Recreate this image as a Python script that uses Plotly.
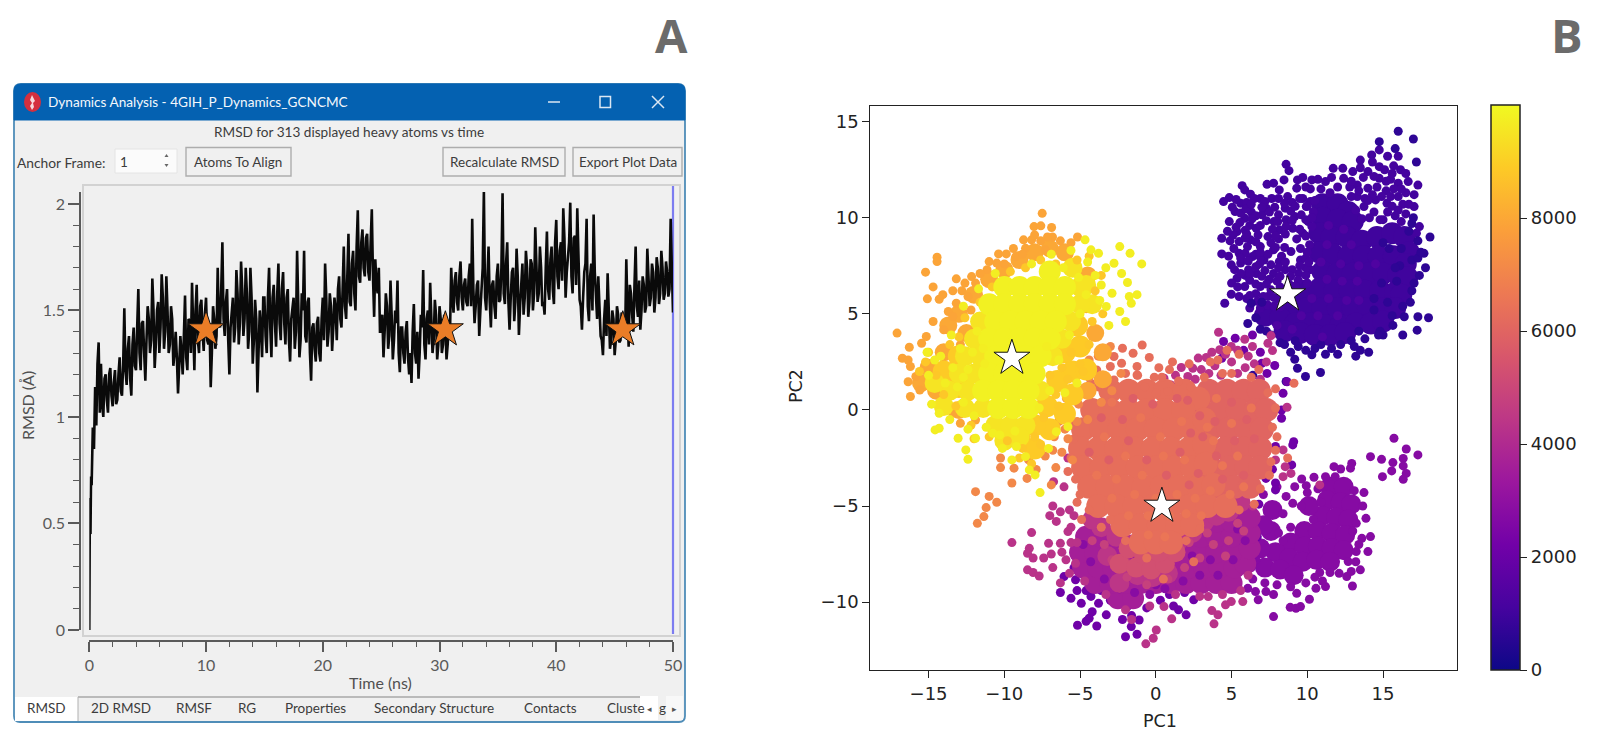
import plotly.graph_objects as go

W, H = 1600, 737

# ---------- Panel A: RMSD trace (ns, Angstrom) ----------
rmsd_time = [0, 0.05, 0.1, 0.15, 0.2, 0.3, 0.4, 0.5, 0.6, 0.7, 0.8, 0.9,
 1.0,1.2,1.4,1.6,1.8,2.0,2.2,2.4,2.6,2.8,3.0,3.2,3.4,3.6,3.8,4.0,4.2,4.4,4.6,4.8,5.0,5.2,5.4,5.6,5.8,
 6.0,6.2,6.4,6.6,6.8,7.0,7.2,7.4,7.6,7.8,8.0,8.2,8.4,8.6,8.8,9.0,9.2,9.4,9.6,9.8,10.0,10.2,10.4,10.6,10.8,
 11.0,11.2,11.4,11.6,11.8,12.0,12.2,12.4,12.6,12.8,13.0,13.2,13.4,13.6,13.8,14.0,14.2,14.4,14.6,14.8,15.0,15.2,15.4,15.6,15.8,
 16.0,16.2,16.4,16.6,16.8,17.0,17.2,17.4,17.6,17.8,18.0,18.2,18.4,18.6,18.8,19.0,19.2,19.4,19.6,19.8,20.0,20.2,20.4,20.6,20.8,
 21.0,21.2,21.4,21.6,21.8,22.0,22.2,22.4,22.6,22.8,23.0,23.2,23.4,23.6,23.8,24.0,24.2,24.4,24.6,24.8,25.0,25.2,25.4,25.6,25.8,
 26.0,26.2,26.4,26.6,26.8,27.0,27.2,27.4,27.6,27.8,28.0,28.2,28.4,28.6,28.8,29.0,29.2,29.4,29.6,29.8,30.0,30.2,30.4,30.6,30.8,
 31.0,31.2,31.4,31.6,31.8,32.0,32.2,32.4,32.6,32.8,33.0,33.2,33.4,33.6,33.8,34.0,34.2,34.4,34.6,34.8,35.0,35.2,35.4,35.6,35.8,
 36.0,36.2,36.4,36.6,36.8,37.0,37.2,37.4,37.6,37.8,38.0,38.2,38.4,38.6,38.8,39.0,39.2,39.4,39.6,39.8,40.0,40.2,40.4,40.6,40.8,
 41.0,41.2,41.4,41.6,41.8,42.0,42.2,42.4,42.6,42.8,43.0,43.2,43.4,43.6,43.8,44.0,44.2,44.4,44.6,44.8,45.0,45.2,45.4,45.6,45.8,
 46.0,46.2,46.4,46.6,46.8,47.0,47.2,47.4,47.6,47.8,48.0,48.2,48.4,48.6,48.8,49.0,49.2,49.4,49.6,49.8,50.0]
rmsd_value = [0, 0.62, 0.45, 0.72, 0.68, 0.95, 0.85, 1.14, 0.96, 1.25, 1.35, 1.02,
 1.25,1.00,1.20,1.02,1.23,1.05,1.22,1.08,1.28,1.10,1.51,1.15,1.38,1.10,1.42,1.22,1.60,1.22,1.45,1.17,1.52,1.30,1.65,1.23,1.50,
 1.30,1.67,1.32,1.66,1.30,1.52,1.24,1.40,1.11,1.38,1.20,1.57,1.22,1.45,1.63,1.22,1.62,1.30,1.55,1.31,1.56,1.34,1.14,1.52,1.32,
 1.70,1.42,1.82,1.38,1.60,1.20,1.52,1.35,1.69,1.34,1.73,1.38,1.70,1.32,1.70,1.25,1.55,1.115,1.50,1.28,1.56,1.30,1.70,1.28,1.62,
 1.33,1.72,1.36,1.68,1.34,1.60,1.26,1.52,1.32,1.78,1.28,1.58,1.78,1.35,1.56,1.17,1.44,1.26,1.47,1.26,1.56,1.72,1.33,1.58,1.31,
 1.56,1.36,1.66,1.42,1.80,1.46,1.86,1.52,1.78,1.50,1.97,1.63,1.88,1.66,1.86,1.64,1.975,1.47,1.62,1.70,1.40,1.28,1.58,1.32,1.64,
 1.27,1.50,1.64,1.21,1.42,1.25,1.45,1.20,1.16,1.53,1.25,1.18,1.48,1.69,1.27,1.50,1.63,1.30,1.55,1.27,1.52,1.30,1.48,1.27,1.44,
 1.70,1.49,1.68,1.50,1.73,1.50,1.65,1.52,1.72,1.93,1.44,1.62,1.38,1.60,2.06,1.50,1.80,1.42,1.64,1.46,1.72,1.55,2.05,1.53,1.82,
 1.41,1.68,1.45,1.79,1.385,1.66,1.48,1.78,1.47,1.74,1.50,1.89,1.54,1.80,1.52,1.48,1.87,1.55,1.80,1.53,1.925,1.60,1.82,1.98,1.56,
 1.78,2.006,1.58,1.85,1.98,1.55,1.41,1.68,1.93,1.45,1.72,1.95,1.52,1.66,1.38,1.29,1.55,1.675,1.32,1.50,1.29,1.52,1.35,1.49,1.38,
 1.74,1.33,1.58,1.40,1.80,1.47,1.41,1.66,1.49,1.79,1.52,1.72,1.49,1.75,1.53,1.78,1.55,1.73,1.565,1.93,1.49]
# Thick body of the trace between the samples above, ns and Angstrom
rmsd_body_time = [
 1.1,1.3,1.5,1.7,1.9,2.1,2.3,2.5,2.7,2.9,3.1,3.3,3.5,3.7,3.9,4.1,4.3,4.5,4.7,4.9,5.1,5.3,5.5,5.7,5.9,
 6.1,6.3,6.5,6.7,6.9,7.1,7.3,7.5,7.7,7.9,8.1,8.3,8.5,8.7,8.9,9.1,9.3,9.5,9.7,9.9,10.1,10.3,10.5,10.7,10.9,
 11.1,11.3,11.5,11.7,11.9,12.1,12.3,12.5,12.7,12.9,13.1,13.3,13.5,13.7,13.9,14.1,14.3,14.5,14.7,14.9,15.1,15.3,15.5,15.7,15.9,
 16.1,16.3,16.5,16.7,16.9,17.1,17.3,17.5,17.7,17.9,18.1,18.3,18.5,18.7,18.9,19.1,19.3,19.5,19.7,19.9,20.1,20.3,20.5,20.7,20.9,
 21.1,21.3,21.5,21.7,21.9,22.1,22.3,22.5,22.7,22.9,23.1,23.3,23.5,23.7,23.9,24.1,24.3,24.5,24.7,24.9,25.1,25.3,25.5,25.7,25.9,
 26.1,26.3,26.5,26.7,26.9,27.1,27.3,27.5,27.7,27.9,28.1,28.3,28.5,28.7,28.9,29.1,29.3,29.5,29.7,29.9,30.1,30.3,30.5,30.7,30.9,
 31.1,31.3,31.5,31.7,31.9,32.1,32.3,32.5,32.7,32.9,33.1,33.3,33.5,33.7,33.9,34.1,34.3,34.5,34.7,34.9,35.1,35.3,35.5,35.7,35.9,
 36.1,36.3,36.5,36.7,36.9,37.1,37.3,37.5,37.7,37.9,38.1,38.3,38.5,38.7,38.9,39.1,39.3,39.5,39.7,39.9,40.1,40.3,40.5,40.7,40.9,
 41.1,41.3,41.5,41.7,41.9,42.1,42.3,42.5,42.7,42.9,43.1,43.3,43.5,43.7,43.9,44.1,44.3,44.5,44.7,44.9,45.1,45.3,45.5,45.7,45.9,
 46.1,46.3,46.5,46.7,46.9,47.1,47.3,47.5,47.7,47.9,48.1,48.3,48.5,48.7,48.9,49.1,49.3,49.5,49.7,49.9]
rmsd_body_value = [
 1.06,1.18,1.08,1.2,1.1,1.16,1.06,1.2,1.12,1.24,1.22,1.32,1.18,1.34,1.24,1.42,1.3,1.44,1.3,1.36,1.46,1.36,1.5,1.34,1.54,
 1.42,1.56,1.4,1.5,1.34,1.46,1.3,1.28,1.24,1.3,1.38,1.28,1.46,1.3,1.42,1.5,1.36,1.52,1.4,1.48,1.36,1.44,1.3,1.46,1.38,
 1.44,1.6,1.46,1.54,1.36,1.42,1.56,1.42,1.58,1.44,1.6,1.46,1.58,1.4,1.56,1.36,1.46,1.32,1.42,1.56,1.38,1.56,1.42,1.56,1.44,
 1.58,1.44,1.6,1.44,1.56,1.36,1.46,1.56,1.4,1.58,1.36,1.5,1.38,1.54,1.3,1.42,1.32,1.44,1.3,1.46,1.36,1.56,1.4,1.52,1.42,
 1.5,1.6,1.46,1.6,1.52,1.66,1.54,1.72,1.58,1.8,1.66,1.82,1.7,1.84,1.68,1.82,1.66,1.74,1.58,1.4,1.48,1.4,1.52,1.38,1.48,
 1.36,1.44,1.3,1.42,1.3,1.4,1.28,1.3,1.4,1.3,1.4,1.3,1.42,1.34,1.46,1.34,1.46,1.36,1.48,1.34,1.46,1.34,1.42,1.34,1.4,
 1.56,1.64,1.54,1.66,1.56,1.62,1.54,1.66,1.52,1.6,1.52,1.64,1.5,1.7,1.56,1.7,1.54,1.62,1.52,1.66,1.54,1.7,1.58,1.72,1.54,
 1.56,1.7,1.54,1.66,1.52,1.72,1.56,1.7,1.54,1.72,1.58,1.72,1.58,1.7,1.54,1.7,1.6,1.74,1.6,1.82,1.66,1.78,1.64,1.84,1.68,
 1.82,1.66,1.84,1.62,1.74,1.52,1.56,1.72,1.52,1.66,1.5,1.68,1.46,1.54,1.36,1.46,1.38,1.5,1.36,1.46,1.36,1.48,1.36,1.46,1.38,
 1.5,1.62,1.48,1.62,1.52,1.64,1.5,1.62,1.52,1.66,1.56,1.68,1.56,1.7,1.58,1.7,1.58,1.68,1.6,1.7]

rmsd_star_time = [10, 30.5, 45.7]
rmsd_star_value = [1.41, 1.41, 1.41]

# ---------- Panel B: PCA scatter (PC1, PC2) ----------
# Dense interiors are summarised by fewer, wider points ("core" lists); the
# loose edges are individual points at the original dot size.
purple_core = [(11,10.7),(12,10.7),(12.7,10.3),(11,10),(12,9.9),(13,9.8),(10.8,9.2),(11.6,9),(12.6,9),(13.6,8.8),(14.6,9),(15.6,9.2),(16.4,9),(16.7,8.2),
 (10.8,8.2),(11.7,8.1),(12.7,8),(13.7,8),(14.7,8),(15.7,8),(16.5,7.6),(11,7.2),(12,7.1),(13,7.1),(14,7.1),(15,7.1),(16,7),(16.6,6.9),
 (9.8,6.2),(10.8,6.3),(11.8,6.2),(12.8,6.2),(13.8,6.2),(14.8,6.2),(15.8,6.1),(16.2,6),(9,5.4),(10,5.3),(11,5.3),(12,5.3),(13,5.3),(14,5.3),(15,5.3),(15.8,5.3),
 (7.2,4.9),(8.2,4.8),(9.2,4.5),(10.2,4.5),(11.2,4.4),(12.2,4.4),(13.2,4.5),(14.2,4.5),(15,4.6),(8.5,4.1),(9.5,4),(10.5,3.9),(11.5,3.9),(12.5,4)]
purple_edge = [(4.85,11.05),(4.47,10.84),(5.7,11.67),(5.87,11.45),(7.34,11.74),(7.77,11.8),(8.46,11.97),(9.35,11.97),(8.6,12.78),(8.79,12.45),(11.71,12.57),(12.34,12.57),(10.3,11.97),(11.2,11.88),(8.15,11.45),(9.3,11.54),
 (5.23,10.32),(5.6,10.75),(6.25,11.22),(6.9,11),(7.65,11),(8.7,11.1),(9.7,11),(5.87,9.97),(4.85,9.8),(4.73,9.3),(5.36,9.28),(4.35,8.93),(5.5,8.76),(6.25,8.85),(7.0,10.15),(7.8,9.8),(8.54,10.5),(9.17,10.06),(9.93,10.58),
 (6.63,9.45),(7.4,9.02),(8.15,9.37),(9.04,9.45),(10.06,9.8),(6.9,8.5),(7.77,8.33),(4.35,8.12),(5.5,8.15),(4.98,7.55),(5.6,7.64),(6.38,7.98),(6.12,7.3),(7.14,7.8),(8.15,7.72),(8.92,8.24),(9.55,7.8),(10.2,7.3),
 (5.36,6.85),(5.87,6.42),(6.63,7.1),(7.77,7.1),(8.54,7.3),(9.43,7.1),(4.98,6.02),(4.55,5.55),(6.0,5.8),(6.9,6.42),(7.4,5.9),(8.2,6.4),(9.0,6.2),(6.3,10.3),(7.3,10.5),(6.2,9.6),(8.6,9.9),(9.7,9.2),(6.6,8.1),(5.9,7.0),(7.5,6.8),(6.9,5.3),
 (13.5,13),(14.25,13.27),(14.75,13.53),(15.3,13.2),(16,13.2),(13,12.4),(14,12.4),(14.75,12.66),(14.75,12.05),(16.15,12.5),(16.66,11.88),(17.3,11.7),(16,11.8),(15.5,12),(17.05,11.2),(17.05,10.58),(16,11.1),(14,11.54),(14.5,10.93),(13.74,10.58),(15.26,10.75),(16.5,10.2),(17.4,9.54),(15.2,11.4),(13.3,11.7),(12.8,11.6),(15.8,10.1),(13.6,9.95),(15,9.9),(17.2,9.2)]
purple_fill = [(5.3,10.95),(6.0,10.8),(6.5,11.0),(7.2,10.85),(8.1,11.0),(9.0,10.8),(9.5,11.0),(10.2,10.85),(5.6,10.25),(6.6,10.1),(7.5,10.3),(8.1,10.15),(8.9,10.35),(9.6,10.15),(10.4,10.3),
 (5.3,9.5),(5.9,9.35),(6.9,9.6),(7.7,9.4),(8.6,9.55),(9.5,9.4),(10.3,9.55),(4.9,8.8),(5.9,8.95),(6.6,8.75),(7.6,8.7),(8.1,8.9),(9.3,8.9),(4.8,8.0),(5.9,8.15),(6.9,7.95),(7.4,8.1),(8.3,8.0),(9.9,7.9),
 (5.2,7.3),(6.6,7.45),(7.2,7.25),(8.1,7.4),(9,7.3),(9.9,7.4),(5.0,6.6),(6.2,6.75),(7.3,6.55),(8.0,6.7),(8.8,6.55),(9.4,6.75),(10,6.6),(5.5,5.9),(6.6,6.05),(7.8,5.85),(8.6,5.95),(6.2,5.3),(7.4,5.45),(8.2,5.35),
 (13.3,11.1),(14.6,11.6),(15.7,11.5),(16.5,11.3),(13.2,10.4),(14.4,10.3),(15.6,10.6),(16.3,10.7),(14.8,9.9),(16.2,9.8),(12.9,11.1),(10.9,11.5),(12,11.6),(11.5,11.3),(10.5,10.9),(9.9,11.6),(15.1,12.5),(15.7,12.7),(14.3,12.9),(16.5,12.3),(13.7,12.1),
 (5.05,10.55),(5.95,10.45),(6.3,10.7),(7.0,10.55),(7.85,10.55),(8.5,10.75),(9.2,10.6),(10,10.6),(5.55,9.75),(6.35,9.95),(7.3,9.85),(8.05,9.8),(9.0,9.85),(9.9,9.9),(10.3,10.0),(5.1,9.1),(6.0,9.15),(6.75,9.1),(7.9,9.05),(8.55,9.15),(9.9,9.05),(10.15,8.6),(5.15,8.4),(6.05,8.5),(6.9,8.2),(7.9,8.45),(8.5,8.45),(9.55,8.4),(10,8.2),
 (5.6,7.9),(6.1,7.75),(6.85,7.6),(7.6,7.55),(8.55,7.7),(9.5,7.5),(10.1,7.7),(5.6,7.1),(6.2,7.1),(7,6.95),(8.2,6.95),(8.9,6.95),(9.9,7),(5.4,6.4),(6.6,6.55),(7.6,6.25),(8.4,6.2),(9.2,6.45),(6.2,5.95),(7.1,5.9),(8.1,5.75),(6.7,5.65),(7.8,5.4),
 (9.7,12.1),(10.7,12),(10.2,11.5),(11.6,12.1),(12.4,12.05),(12.9,11.9),(13.4,11.4),(13.8,11),(14.3,11.2),(14.9,11.1),(15.5,11.1),(16.2,11.5),(14,10.9),(14.1,10),(15.3,10.3),(16,10.4),(16.7,10.7),(14.4,12.15),(15.2,11.9),(13.5,12.6),(15.6,12.3)]
purple_dark = [(6.07,4.5),(9.17,2.64),(8.9,3.0),(9.4,3.3),(6.3,5.55),(12.2,3.4),(13.2,2.8),(14.05,3.0),(13.5,3.1),(17.3,4.85),(18,4.8),(17.25,4.15),(16.3,3.9),(16.4,4.85),(15.65,4.4),(15,3.9),(17,14.1),(16,14.5),(14.75,13.96),(15.8,13.6),(17.2,12.9),(18.1,9),(17.7,8.15),(17.8,7.4),(17.05,6.6),(16.8,5.6),
 (9.35,2.17),(9.88,1.74),(10.87,1.95),(10.3,2.87),(11.2,2.9),(8.6,1.48),(15.3,5.6),(16.1,7.5),(15.4,8.4),(16.9,7.8),(14.4,5.2),(14.8,4.1),(12.9,3.6),(10.5,3.2),(8.2,3.5),(7.6,3.9),(6.9,4.2),(6.4,1.8),
 (16.9,9.7),(17.3,8.8),(17.3,7.9),(17.4,7),(16.9,6.2),(16.3,5.4),(15.6,4.9),(14.7,3.9),(13.8,3.7),(13.1,3.3),(12,2.9),(11.6,3.2),(10.9,3.4),(9.9,3.1),(9.2,3.6),(8.5,3.4),(7.3,4.1),(6.6,4.8),(7.0,5.6),(17,10),(16.7,9.3),(17.5,8.2),(16.2,8.4),(15,8.7),(15.8,7.4),(14.9,6.6),(15.9,6.7),(14.4,5.8),(13.4,4.1)]
purple_mid_tex = [(11.4,9.6),(12.4,9.4),(12.9,8.6),(11.3,8.6),(10.9,7.7),(12.2,7.6),(13.4,7.5),(14.5,7.6),(13.3,6.7),(12.3,6.7),(11.3,6.8),(10.3,5.8),(11.4,5.8),(12.6,5.7),(13.4,5.7),(9.6,4.9),(10.7,4.9),(12,4.9),(8,4.4),(9,4.2),(11,3.8)]

lowright_core = [(11.5,-4),(12.4,-4),(11.3,-4.7),(12.2,-4.8),(12.9,-4.9),(11,-5.5),(11.9,-5.6),(12.7,-5.7),(9.8,-6.3),(10.7,-6.3),(11.6,-6.4),(12.5,-6.5),(8.9,-6.9),(9.8,-7.1),(10.7,-7.1),(11.6,-7.2),(12.4,-7.3),(7.9,-7.4),(8.8,-7.7),(9.7,-7.9),(10.6,-7.8),(11.5,-7.9),(7.2,-8.2),(8.2,-8.3),(9.1,-8.6),(7.6,-6.3),(6.9,-7.2),(10.1,-5),(7.7,-5.2),(7.1,-6)]
lowright_edge = [(7.77,-10.75),(8.87,-10.27),(9.25,-10.32),(9.55,-10.23),(10.14,-9.85),(9.3,-9.54),(7.77,-9.6),(7.27,-9.45),(6.76,-9.88),(6.58,-9.45),(6.07,-9.28),(12.98,-9.16),(11.2,-9.19),(10.57,-9.28),(13.5,-8.32),(12.6,-8.67),(12.1,-8.5),(11.5,-8.46),(10.82,-8.46),(14,-7.37),(13.23,-7.37),(12.7,-7.89),(14.17,-6.59),(13.6,-6.68),(13.87,-5.64),(13.23,-5.9),(13.66,-5),(13.74,-4.3),(13.1,-4.2),(12.93,-2.78),(12.85,-3.03),(12.2,-3.07),(11.76,-2.95),(11.2,-3.47),(11.84,-3.47),(10.44,-3.5),(9.63,-3.59),(9.17,-3.99),(9.93,-3.94),(9.04,-4.86),(10,-4.3),(8.6,-4.5),(8.4,-5.4),(9.6,-5.0),(8.1,-6.4),(8.9,-6.1),(10.5,-8.7),(9.9,-9),(6.4,-8.8),
 (15.72,-1.47),(16.53,-2.03),(17.3,-2.34),(14.17,-2.43),(14.9,-2.57),(15.65,-2.74),(16.33,-2.52),(16.33,-2.91),(15.57,-3.17),(16.53,-3.3),(14.96,-3.47),(16.33,-3.61),
 (10.7,-4.1),(10.9,-4.8),(10.4,-5.7),(13.4,-7),(13,-6.3),(13.2,-7.9),(12.9,-8.4),(11,-8.9),(8.9,-9.2),(8,-9.1),(7.2,-9),(6.3,-8.2),(6.6,-7.8),(7.1,-4.4),(8,-4),(8.4,-6.8)]
violet_dots = [(9.1,-1.65),(9.04,-1.82),(7.9,-1.9),(8.3,0),(8.3,-0.43),(8.4,0.87),(8.66,1.47),(8.97,-2.86),(7.7,-3.09),(7.9,-3.8),(7.9,-4.16),(7.27,-3.56),(7.34,1.9),(4.47,3.56),(6.38,3.9),(4.35,2.69),(7.85,2.31),(5.24,3.73),(7,2.43),(5.8,3.1),(6.9,3),
 (-6.06,-8.67),(-5.3,-8.84),(-4.67,-8.84),(-6.3,-9.5),(-5.17,-11.2),(-4.4,-10.84),(-3.9,-11.24),(-4.6,-11),(-3.78,-10.06),(-4.28,-9.7),(-3.27,-10.66),(-4.92,-10.06),(-2,-11.8),(-1.24,-11.67),(-1.62,-11.27),(-1.1,-10.93),(-1.88,-10.23),(-1.24,-10.06),(1.17,-10.2),(2,-10.66),(1.5,-10.4),(2.5,-9.88),(-5.2,-9.4),(-4.2,-10.5),(-3.6,-9.4),(-1.6,-10.7),(0.3,-9.9),(3.9,-9.2),(5.2,-9.2),(-5,-7.9),(5.6,-6.8),(6.8,-4.9),(6.4,-5.9),
 (-4.6,-9.4),(-5.6,-9.8),(-3,-9.9),(-5.4,-8.2),(-4.4,-8.2),(-2.2,-10.9),(-0.6,-10.3),(0.9,-9.6),(1.9,-9.5),(6.1,-7.4),(6.7,-6.6)]

magenta_core = [(-2.5,-9.8),(-1.5,-9.8),(-4,-9),(-3,-9),(-2,-9),(-1,-9),(0,-9),(1,-9),(2,-9),(3,-9),(4,-9),(5,-9),(-4.8,-8.2),(-3.8,-8.2),(-2.8,-8.2),(-1.8,-8.2),(-0.8,-8.2),(0.2,-8.2),(1.2,-8.2),(2.2,-8.2),(3.2,-8.2),(4.2,-8.2),(5.2,-8.2),(5.9,-8),
 (-5,-7.4),(-4,-7.4),(-3,-7.4),(-2,-7.4),(-1,-7.4),(0,-7.4),(1,-7.4),(2,-7.4),(3,-7.4),(4,-7.4),(5,-7.4),(6.2,-7.2),(-4.6,-6.6),(-3.6,-6.6),(-2.6,-6.6),(2,-6.6),(3,-6.6),(4,-6.6),(5,-6.6),(6.2,-6.4),(4,-5.8),(5,-5.8),(6.2,-5.6)]
magenta_edge = [(-5.8,-2.5),(-6.75,-3.73),(-6.06,-4),(-6.8,-5),(-7,-5.5),(-6.3,-5.3),(-6.57,-5.8),(-8.2,-6.38),(-9.5,-6.9),(-7.08,-6.94),(-6.3,-6.94),(-5.8,-6.33),(-8.35,-7.2),(-8.47,-7.46),(-8.1,-7.7),(-7.4,-7.7),(-8.47,-8.32),(-8.1,-8.46),(-7.7,-8.64),(-6.3,-9),(-5.93,-7.8),(-5.3,-7.98),(-5.6,-6.9),(-5.4,-5.5),
 (-0.66,-12.17),(-0.17,-11.88),(0.03,-11.45),(1.05,-10.87),(0.54,-10.23),(3.84,-11.13),(4.1,-10.66),(3.7,-10.44),(3.46,-9.71),(4.98,-9.97),(5.74,-9.97),(4.6,-10.14),(-1.6,-10.9),(-2,-10.4),(4.4,-9.6),(5.6,-9.4),
 (4.14,4.04),(5.87,3.68),(6.38,3.3),(4.98,3.3),(4.22,3.13),(7.6,3.87),(7.4,3.47),(7.7,3.09),(1.68,2.21),(2.11,1.74),(2.44,2.17),(3.33,2.73),(0.54,1.65),(1,1.3),(3,2.1),(3.9,2.3),(5,2.5),(5.9,2.2),(6.5,2.4),(4.3,1.8),(1.9,1.2),
 (8.4,-2.08),(8.66,0.14),(8.92,-3.3),(8.4,-3.47),(7.9,-2.6),(8.54,-2.95),(10.82,-3.9),(-0.4,-10.2),(1.3,-9.6),(2.9,-9.7),(6.1,-8.6),(6.4,-5),(-5.6,-6.1),(-5.2,-6.9),
 (2.8,2.7),(3.7,3.0),(4.6,2.9),(5.4,3.1),(6.1,2.8),(2.6,1.6),(3.5,1.9),(5.4,1.9),(6.9,1.6),(1.3,1.8),(7.3,2.5),(-4.7,-8.9),(-3.3,-9.6),(-5.7,-8.5),(-6.8,-8.2),(-6.9,-7.5),(-6.2,-7.4),(-5.7,-5.2)]
magenta_dark_tex = [(-3.4,-8.8),(-2.4,-9.3),(-1.4,-9.5),(-0.4,-9.6),(0.6,-9.3),(1.8,-8.9),(2.9,-8.6),(4.1,-8.6),(5.1,-7.8),(5.9,-6.8),(5.4,-6.2),(3.6,-7.8),(2.4,-7.6),(-4.3,-7.9),(-4.8,-7),(0,-9.1)]
magenta_light_tex = [(-3.4,-7),(-4.2,-6.8),(-2.9,-7.8),(-1.9,-8.7),(-0.6,-9.1),(0.8,-8.8),(1.9,-8.2),(2.9,-7.7),(3.8,-7),(4.8,-6.8),(5.8,-6.3),(4.6,-7.6),(3.4,-6.4),(2.2,-6.9),(5.4,-5.9)]
rose_core = [(-3.6,-6.1),(-2.6,-6.6),(-1.6,-7),(-0.6,-7.2),(0.4,-7.2),(1.4,-6.9),(2.4,-6.4),(3.2,-5.8),(4,-5.5),(-4.2,-5.7),(-3.2,-7.6),(-2.2,-8.1),(-1.2,-8.6),(-0.2,-8.7),(0.8,-8.5),(-2.4,-9),(4.8,-5.3),(5.6,-4.8)]
pink_core = [(-2.4,-8),(-1.3,-8.2),(-0.3,-8.3),(0.6,-8),(1.3,-7.4),(-1.8,-7.2),(-0.8,-7.5),(0.2,-7.4)]
salmon_pink_core = [(3.5,1),(4.7,1),(5.8,1),(6.8,1),(3,0),(4.2,0),(5.4,0),(6.6,0),(7.3,0),(3.6,-1),(4.8,-1),(6,-1),(7,-1),(3.4,-2),(4.6,-2),(5.8,-2),(6.9,-2),(3.6,-3),(4.8,-3),(6,-3),(6.9,-3),(4,-4),(5.2,-4),(6.2,-4)]
salmon_core = [(-3,1),(-1.8,1),(-0.6,1),(0.6,1),(1.9,1),(2.8,0.6),(-4.2,0),(-3,0),(-1.8,0),(-0.6,0),(0.6,0),(1.8,0),(-4.8,-1),(-3.6,-1),(-2.4,-1),(-1.2,-1),(0,-1),(1.2,-1),(2.4,-1),(3.2,-0.5),
 (-5,-2),(-3.8,-2),(-2.6,-2),(-1.4,-2),(-0.2,-2),(1,-2),(2.2,-2),(3.2,-1.8),(-4.8,-3),(-3.6,-3),(-2.4,-3),(-1.2,-3),(0,-3),(1.2,-3),(2.4,-3),(3.3,-2.8),
 (-4.4,-4),(-3.2,-4),(-2,-4),(-0.8,-4),(0.4,-4),(1.6,-4),(2.8,-4),(3.8,-3.9),(-3.8,-5),(-2.6,-5),(-1.4,-5),(-0.2,-5),(1,-5),(2.2,-5),(3.4,-5),(4.6,-5),(-2.2,-6),(-1,-6),(0.2,-6),(1.4,-6),(2.4,-6),(-1,-6.9),(0,-6.9),(1,-6.9)]
salmon_edge = [(-2.2,3.21),(-0.9,3.38),(-1.5,2.95),(-0.43,2.73),(-2.76,2.78),(-2.26,2.43),(-1.24,2.26),(-3,2.26),(-2,1.9),(-0.73,1.2),(0.03,0.87),(0.79,0.96),(-2.76,1.56),(-3.5,1.65),(-3.9,2.08),(-4.3,1.39),(-1.24,1.82),(-5.6,-0.8),(-5.8,-3.2),(-5.2,-4.8),(-4.9,-5.7),(-3.6,-6.1),(0.9,2.1),(1.5,1.5),(3.6,2.5),(4.7,3.1),(5.5,2.9),(6.8,2.1),(7.9,1.1),(7.7,-0.9),(7.9,-2.1),(7.5,-3.4),(6.9,-4.1),(9.12,1.39),(8.7,-2.5),(-0.6,-7.7),(0.5,-8.8),(2.5,-7.9),
 (-5.4,-1.5),(-5.6,-2.5),(-5.3,-3.6),(-5,-4.4),(-4.4,-5.2),(-4.6,0.8),(-3.8,1.2),(-1.2,1.8),(0.4,1.7),(2.3,1.2),(3.2,1.7),(4.4,1.9),(6.3,1.7),(7.4,0.9),(7.9,0.1),(8,-1.4),(7.6,-2.7),(6.5,-4.9),(5.5,-5.2),(-3,-5.7),(2.9,-6.2),(-2,-6.8),(2,-6.8),(2.2,2.4),(1.1,2.5),(0.2,2.2),(-0.1,1.7),(5,1.9),(4.1,2.6)]
salmon_dark_tex = [(-1.5,0.6),(-0.2,0.3),(2.1,0.5),(2.9,-0.3),(3.9,-0.6),(5,0.4),(6,-0.5),(6.5,-1.5),(5.2,-1.6),(4,-2.4),(3.1,-1.4),(-3.6,-0.4),(-2.2,-0.5),(-4.4,-2.2),(-3.1,-2.6),(-1.8,-1.6),(-0.6,-2.6),(0.7,-3.4),(2.8,-3.3),(4.4,-3.6),(5.8,-3.4),(1.4,0.6),(2.3,-1.2),(1.6,-2.2),(2.2,-3.9)]
salmon_light_tex = [(-2.9,0.4),(-1,-0.4),(0.3,-1.4),(1.7,-0.6),(-3.4,-1.4),(-2,-2.4),(-0.9,-3.4),(0.5,-2.4),(1.9,-2.6),(-3.9,-3.4),(-2.6,-3.6),(-1.4,-4.4),(0,-4.6),(1.4,-4.4),(2.6,-4.6),(3.6,-4.2),(4.9,-4.4),(-2.9,-4.6),(-1.8,-5.5),(-0.5,-5.5),(0.9,-5.5),(2,-5.4),(3,-5.5),(-0.5,-6.5),(0.6,-6.6),(3.8,-1.6),(4.4,-2.9),(5.4,-2.4),(3.4,-0.9),(5.8,-4),(4,0.6),(6.3,0.1),(5,-0.7)]

amber_dots = [(-7,0.4),(-6.4,-0.6),(-5.8,-1.5),(-5.1,0.3),(-4.5,-0.5),(-6.7,-1.4),(-4.4,1.7),(-3.6,0.4),(-2.9,1),(-2.3,1.9),(-7.5,-0.9),(-7.3,-2.4),(-6.6,-3),(-10.25,-2.5),(-10.25,-3),(-9.36,-3.03),(-9.5,-3.8),(-8.5,-3.56),(-11.9,-4.25),(-11,-4.5),(-10.5,-4.8),(-11.2,-5.08),(-11.35,-5.55),(-11.78,-5.9),
 (-5.2,-0.6),(-4.8,1),(-3.2,1.5),(-6.2,-2.2),(-5.5,-2.6),(-6.9,-3.9),(-6,-1),(-5.9,0.6),(-3.8,2.8),(-3,3.3),(-4.4,2.6),(-7.9,-3.1),(-8.4,-2.6),(-6.8,-2.1)]
orange_core = [(-11,6.8),(-12,6),(-10,7.3),(-9,7.8),(-8,8.2),(-7,8.4),(-6,8.2),(-13,5),(-12.5,4),(-13.7,4.4),(-4.6,5.5),(-4,4),(-3.5,3),(-4.5,7),(-3.5,1.6),(-4.5,1),(-15,2.2),(-15.5,1.4),(-14.5,1),(-13,0),(-14,3)]
orange_edge = [(-7.5,10.23),(-8.04,9.54),(-7.59,9.58),(-6.88,9.49),(-6.82,9),(-7.15,9),(-8.73,8.85),(-8.2,8.85),(-5.17,9),(-8.6,8.41),(-7.3,8.33),(-10.38,8.12),(-9.87,8.12),(-14.44,7.95),(-14.44,7.72),(-15.2,7.17),(-11,7.72),(-10.5,7.64),(-9.24,7.98),(-13.17,6.82),(-12.16,6.94),(-11.14,7.3),(-14.7,6.4),(-13.4,6.2),(-12.8,6.2),(-14.06,6),(-15.08,5.78),(-14.3,5.76),(-13.17,5.55),(-13.7,5.12),(-12.4,5.9),(-11.9,6.6),(-14.7,4.6),(-13.4,4.86),(-14,4.17),(-17.08,4),(-15.15,3.82),(-16.27,3.26),(-16.73,2.69),(-16.35,2.6),(-15.46,3.47),(-16.2,2.26),(-15.84,1.74),(-16.2,0.7),(-15.58,1.04),(-16.35,1.47),(-14.44,1.3),(-13.4,-0.17),(-12.9,-0.69),(-11.9,-0.52),
 (-10,7.6),(-9.4,8.4),(-8.8,8.1),(-8,9.1),(-7.6,8.8),(-6.3,8.8),(-5.6,8.7),(-12.6,6.6),(-12.2,5.2),(-12.9,3.4),(-11.6,7.1)]
gold_core = [(-6,3),(-5,3.3),(-5.2,4.4),(-5.5,2),(-4.6,2.1),(-6.5,1.5),(-5.5,0.8),(-6,-0.2),(-7,-1),(-7.2,0.2),(-8,-0.8),(-8,-2),(-9,-1.5),(-13,2.8),(-14,2),(-13,1.2)]
gold_tex = [(-14.5,1.8),(-15.2,2.5),(-14,0.8),(-13.2,0.2),(-12.2,-0.8),(-11,-1.4),(-9.8,-1.6),(-8.8,-2),(-8,-1.4),(-7.4,-0.4),(-6.6,0.8),(-5.8,1.6),(-5,2.4),(-4.4,3.4),(-4.2,4.6),(-4.8,2),(-5.6,3),(-6.2,2.2),(-7,1.8),(-6.4,0.2),(-13.6,3.4),(-13,3.8),(-12.6,4.8),(-11.6,5.6),(-10.8,6.4),(-9.6,7.2),(-8.6,7.4),(-7.6,7.8),(-6.6,7.6),(-5.2,7.8),(-4.4,8),(-3.6,7),(-4,6.2),(-3.5,5),(-15.6,2),(-15,3),(-12,-1.5),(-8.2,-2.8),(-9,-2.5),(-7.6,-1.8)]
yellow_mid_core = [(-13.6,1),(-12.6,2.8),(-13,1.9),(-12.6,0.1),(-12,3.7),(-11.6,4.6),(-12.4,1),(-12,1.9),(-11.6,2.8),(-11.4,0.1),(-10.6,-0.8),(-9.6,-0.8),(-8.6,-0.8),(-14,0.2),(-14.6,1.4),(-4.2,5.5),(-5,5.5),(-5,6.4),(-5.6,4.6),(-6.2,3.7),(-6.8,2.8),(-7.6,1),(-5.5,7.4),(-4.6,6.5),(-9,-1.4),(-10,-1.6)]
yellow_core = [(-7,7.2),(-10,6.4),(-9,6.4),(-8,6.4),(-7,6.4),(-6,6.4),(-11,5.5),(-10,5.5),(-9,5.5),(-8,5.5),(-7,5.5),(-6,5.5),(-10.6,4.6),(-9.6,4.6),(-8.6,4.6),(-7.6,4.6),(-6.6,4.6),(-11,3.7),(-10,3.7),(-9,3.7),(-8,3.7),(-7,3.7),
 (-10.6,2.8),(-9.6,2.8),(-8.6,2.8),(-7.6,2.8),(-11,1.9),(-10,1.9),(-9,1.9),(-8,1.9),(-11.4,1),(-10.4,1),(-9.4,1),(-8.4,1),(-10.4,0.1),(-9.4,0.1),(-8.4,0.1)]
yellow_edge = [(-2.38,8.5),(-1.7,8.15),(-0.93,7.6),(-2.26,7.1),(-1.87,6.63),(-1.24,6),(-1.62,5.55),(-1.75,5.9),(-2,4.6),(-2.38,5.12),(-2.89,6.07),(-3.27,5.38),(-4.67,8.85),(-4.28,8.33),(-3.78,8.15),(-2.76,7.63),(-3.3,7.4),(-3.6,6.5),(-3.1,4.4),(-8.2,7.6),(-6.9,8.1),(-5.6,8.3),
 (-14.3,-0.17),(-14.3,-0.95),(-14.57,-1.04),(-13.05,-1.47),(-11.9,-1.47),(-12.54,-2.08),(-12.4,-2.57),(-10.76,-1.21),(-10.13,-2),(-9.5,-2.6),(-8.35,-3.12),(-7.97,-3.38),(-7.64,-4.3),(-8.6,-2.43),(-7.08,-2),(-6.57,-1.13),(-5.8,-0.87),(-14.6,2.6),(-15.1,3),(-9.2,-1.9),
 (-15,1.8),(-14.2,2.8),(-13.4,2.2),(-14.8,0.3),(-13.6,-0.5),(-12.4,-1),(-12.9,3.2),(-13.5,3.9),(-12.7,5.4),(-11.7,6.3),(-10.6,7.1),(-4.5,7.7),(-4,7),(-3.7,5.7),
 (-13.9,1.4),(-13.1,1.2),(-12.4,2.1),(-12.1,3),(-11.8,4.1),(-12.7,0.4),(-12,-0.3),(-11.2,-0.9),(-10.3,-1.3),(-9.3,-1.1),(-7.7,0.1),(-7,1),(-6.4,2.6),(-5.7,3.9),(-5,5),(-4.6,6),(-5.1,6.9),(-6.1,7.4),(-5.2,1.4),(-6,0.9),(-12.7,1.7),(-11.4,3.2),(-11.3,2.4),(-7.2,3.3)]

white_star_pc1 = [-9.5, 8.7, 0.4]
white_star_pc2 = [2.7, 6.0, -5.0]

scatter_layers = [
    (purple_core, 1000, 22), (purple_edge, 1050, 9), (purple_fill, 1100, 9), (purple_dark, 650, 9), (purple_mid_tex, 1350, 9),
    (lowright_core, 2750, 20), (lowright_edge, 2750, 9), (violet_dots, 2150, 9),
    (magenta_core, 3600, 22), (magenta_dark_tex, 2800, 9), (magenta_edge, 4300, 9), (rose_core, 4400, 20), (magenta_light_tex, 4800, 9),
    (pink_core, 5300, 20), (salmon_pink_core, 6000, 24), (salmon_core, 6300, 24),
    (salmon_edge, 6300, 9), (salmon_dark_tex, 5800, 9), (salmon_light_tex, 6550, 9),
    (amber_dots, 7100, 9), (orange_core, 8000, 18),
    (orange_edge, 7900, 9), (gold_core, 8900, 22), (yellow_mid_core, 9500, 20), (gold_tex, 8800, 9),
    (yellow_core, 9800, 22), (yellow_edge, 9750, 9),
]

# Tick labels
rmsd_ticks = [0, 0.5, 1, 1.5, 2]
rmsd_ticktext = ["0", "0.5", "1", "1.5", "2"]
time_ticks = [0, 10, 20, 30, 40, 50]
pc1_ticks = [-15, -10, -5, 0, 5, 10, 15]
pc2_ticks = [-10, -5, 0, 5, 10, 15]
cbar_ticks = [0, 2000, 4000, 6000, 8000]

# Window chrome texts: (text, x, y, anchor, size)
WIN_FONT = "Lato"
window_texts = [
    ("Dynamics Analysis - 4GIH_P_Dynamics_GCNCMC", 46, 102, "left", 13.6, "#f4f8fc"),
    ("RMSD for 313 displayed heavy atoms vs time", 349, 132, "center", 13.6, "#3c3c3c"),
    ("Anchor Frame:", 15, 162, "left", 13.8, "#3c3c3c"),
    ("1", 118, 162, "left", 13.5, "#3c3c3c"),
    ("Atoms To Align", 238.5, 162, "center", 13.5, "#3c3c3c"),
    ("Recalculate RMSD", 504, 162, "center", 13.5, "#3c3c3c"),
    ("Export Plot Data", 627.5, 162, "center", 13.5, "#3c3c3c"),
    ("Time (ns)", 380, 682, "center", 16, "#505050"),
    ("RMSD", 46, 708, "center", 13.5, "#3c3c3c"),
    ("2D RMSD", 120.5, 708, "center", 13.5, "#3c3c3c"),
    ("RMSF", 194, 708, "center", 13.5, "#3c3c3c"),
    ("RG", 247, 708, "center", 13.5, "#3c3c3c"),
    ("Properties", 315, 708, "center", 13.5, "#3c3c3c"),
    ("Secondary Structure", 434, 708, "center", 13.5, "#3c3c3c"),
    ("Contacts", 550, 708, "center", 13.5, "#3c3c3c"),
    ("Cluste", 605, 708, "left", 13.5, "#3c3c3c"),
    ("g", 662, 708, "center", 13.5, "#3c3c3c"),
    ("◂", 649.5, 708, "center", 9, "#555555"),
    ("▸", 674.5, 708, "center", 9, "#555555"),
]


def px(x):
    return x / W


def py(y):
    return 1 - y / H


shapes = []


def rect(x0, y0, x1, y1, fill=None, line=None, lw=1):
    shapes.append(dict(type="rect", xref="paper", yref="paper", layer="below",
                       x0=px(x0), x1=px(x1), y0=py(y1), y1=py(y0),
                       fillcolor=fill or "rgba(0,0,0,0)",
                       line=dict(color=line or "rgba(0,0,0,0)", width=lw if line else 0)))


def seg(x0, y0, x1, y1, color, lw=1, layer="below"):
    shapes.append(dict(type="line", xref="paper", yref="paper", layer=layer,
                       x0=px(x0), x1=px(x1), y0=py(y0), y1=py(y1),
                       line=dict(color=color, width=lw)))


def path(points, fill, line=None, lw=0):
    d = ""
    for cmd, *vals in points:
        d += cmd + " ".join(f"{px(vals[i]):.5f},{py(vals[i + 1]):.5f}" for i in range(0, len(vals), 2)) + " "
    shapes.append(dict(type="path", xref="paper", yref="paper", layer="below", path=d + "Z",
                       fillcolor=fill, line=dict(color=line or "rgba(0,0,0,0)", width=lw)))


# window body and title bar (rounded corners)
L, R, T, B = 14, 685, 84, 722
path([("M", L, T + 7), ("Q", L, T, L + 7, T), ("L", R - 7, T), ("Q", R, T, R, T + 7), ("L", R, B - 6),
      ("Q", R, B, R - 6, B), ("L", L + 6, B), ("Q", L, B, L, B - 6)], "#f0f0f0", "#4f8db8", 1.8)
path([("M", L, T + 7), ("Q", L, T, L + 7, T), ("L", R - 7, T), ("Q", R, T, R, T + 7), ("L", R, 120), ("L", L, 120)],
     "#0461b1", "#0461b1", 1)
# icon
shapes.append(dict(type="circle", xref="paper", yref="paper", layer="below", x0=px(24), x1=px(41),
                   y0=py(112), y1=py(92), fillcolor="#d42f3e", line=dict(width=0)))
path([("M", 32, 95), ("L", 35, 101), ("L", 33, 103), ("L", 34, 107), ("L", 32, 110), ("L", 30, 106), ("L", 32, 103), ("L", 30, 100)],
     "#f6d9dc")
# window buttons
seg(548, 102, 560, 102, "#dbe7f3", 1.5)
shapes.append(dict(type="rect", xref="paper", yref="paper", layer="below", x0=px(600), x1=px(610.5),
                   y0=py(107.5), y1=py(96.5), line=dict(color="#dbe7f3", width=1.5)))
seg(652, 96, 664, 108, "#dbe7f3", 1.5)
seg(652, 108, 664, 96, "#dbe7f3", 1.5)
# controls
rect(115, 149, 177, 173, "#fbfbfb", "#e4e4e4", 1)
path([("M", 164.5, 157), ("L", 166.5, 154), ("L", 168.5, 157)], "#666666")
path([("M", 164.5, 164), ("L", 168.5, 164), ("L", 166.5, 167)], "#666666")
rect(186, 147.5, 291, 176, "#f0f0f0", "#adadad", 1.4)
rect(443, 147.5, 565, 176, "#f0f0f0", "#adadad", 1.4)
rect(573, 147.5, 682, 176, "#f0f0f0", "#adadad", 1.4)
# plot frame
rect(83, 185, 680, 636, "#f0f0f0", "#d2d2d2", 2)
seg(673, 186, 673, 634, "#7c7cf0", 2.2)
# tabs
seg(78, 697, 640, 697, "#a8a8a8", 1.4)
rect(15, 697, 78, 721, "#ffffff")
seg(78, 697, 78, 721, "#b0b0b0", 1)
rect(640, 696, 658, 720, "#ffffff")
rect(666, 696, 683, 720, "#f8f8f8")

annotations = []
for text, x, y, anchor, size, color in window_texts:
    annotations.append(dict(text=text, x=px(x), y=py(y), xref="paper", yref="paper", xanchor=anchor,
                            yanchor="middle", showarrow=False, font=dict(family=WIN_FONT, size=size, color=color)))
annotations.append(dict(text="RMSD (Å)", x=px(27), y=py(406), xref="paper", yref="paper", textangle=-90,
                        xanchor="center", yanchor="middle", showarrow=False,
                        font=dict(family=WIN_FONT, size=16, color="#505050")))
annotations.append(dict(text="A", x=px(671.5), y=py(35), xref="paper", yref="paper", xanchor="center", yanchor="middle",
                        showarrow=False, font=dict(family="Open Sans", size=47, color="#6b6b6b", weight=700)))
annotations.append(dict(text="B", x=px(1567), y=py(35), xref="paper", yref="paper", xanchor="center", yanchor="middle",
                        showarrow=False, font=dict(family="Open Sans", size=47, color="#6b6b6b", weight=700)))
annotations.append(dict(text="PC1", x=px(1160), y=py(721), xref="paper", yref="paper", xanchor="center", yanchor="middle",
                        showarrow=False, font=dict(family="DejaVu Sans", size=17.5, color="#222222")))
annotations.append(dict(text="PC2", x=px(796), y=py(386), xref="paper", yref="paper", textangle=-90, xanchor="center",
                        yanchor="middle", showarrow=False, font=dict(family="DejaVu Sans", size=17.5, color="#222222")))

merged = sorted(list(zip(rmsd_time, rmsd_value)) + list(zip(rmsd_body_time, rmsd_body_value)))

fig = go.Figure()
fig.add_trace(go.Scatter(x=[m[0] for m in merged], y=[m[1] for m in merged], mode="lines", xaxis="x", yaxis="y",
                         line=dict(color="#0a0a0a", width=2.6), showlegend=False))
fig.add_trace(go.Scatter(x=rmsd_star_time, y=rmsd_star_value, mode="markers", xaxis="x", yaxis="y", showlegend=False,
                         marker=dict(symbol="star", size=27, color="#ea7d27", line=dict(color="#111111", width=1))))

for pts, cval, size in scatter_layers:
    fig.add_trace(go.Scatter(x=[p[0] for p in pts], y=[p[1] for p in pts], mode="markers", xaxis="x2", yaxis="y2",
                             showlegend=False,
                             marker=dict(size=size, color=[cval] * len(pts), coloraxis="coloraxis", line=dict(width=0))))
fig.add_trace(go.Scatter(x=white_star_pc1, y=white_star_pc2, mode="markers", xaxis="x2", yaxis="y2", showlegend=False,
                         marker=dict(symbol="star", size=27, color="#ffffff", line=dict(color="#111111", width=1))))

win_tick = dict(family=WIN_FONT, size=16, color="#5a5a5a")
mpl_tick = dict(family="DejaVu Sans", size=18, color="#222222")
fig.update_layout(
    width=W, height=H, margin=dict(l=0, r=0, t=0, b=0, autoexpand=False), autosize=False,
    paper_bgcolor="#ffffff", plot_bgcolor="rgba(0,0,0,0)", showlegend=False,
    shapes=shapes, annotations=annotations,
    xaxis=dict(domain=[px(89.3), px(673)], range=[0, 50], anchor="free", position=py(640.7), showgrid=False, zeroline=False,
               showline=True, linecolor="#5a5a5a", linewidth=1.6, ticks="outside", ticklen=10, tickwidth=1.5, tickcolor="#5a5a5a",
               tickvals=time_ticks, tickfont=win_tick,
               minor=dict(dtick=2, ticks="outside", ticklen=5, tickwidth=1.3, tickcolor="#5a5a5a", showgrid=False)),
    yaxis=dict(domain=[py(630), py(192)], range=[0, 2.056], anchor="free", position=px(80), showgrid=False, zeroline=False,
               showline=True, linecolor="#5a5a5a", linewidth=1.6, ticks="outside", ticklen=11, tickwidth=1.5, tickcolor="#5a5a5a",
               tickvals=rmsd_ticks, ticktext=rmsd_ticktext, tickfont=win_tick,
               minor=dict(dtick=0.1, ticks="outside", ticklen=6, tickwidth=1.3, tickcolor="#5a5a5a", showgrid=False)),
    xaxis2=dict(domain=[px(870.4), px(1457.3)], range=[-18.84, 19.9], anchor="y2", showgrid=False, zeroline=False,
                showline=True, mirror=True, linecolor="#222222", linewidth=1.4, ticks="outside", ticklen=7, tickwidth=1.4,
                tickcolor="#222222", tickvals=pc1_ticks, tickfont=mpl_tick),
    yaxis2=dict(domain=[py(670), py(105.7)], range=[-13.53, 15.83], anchor="x2", showgrid=False, zeroline=False,
                showline=True, mirror=True, linecolor="#222222", linewidth=1.4, ticks="outside", ticklen=7, tickwidth=1.4,
                tickcolor="#222222", tickvals=pc2_ticks, tickfont=mpl_tick),
    coloraxis=dict(cmin=0, cmax=10000, colorscale="Plasma",
                   colorbar=dict(x=px(1491), xanchor="left", xref="paper", y=py(670), yanchor="bottom", yref="paper",
                                 len=(670 - 105.5) / H, lenmode="fraction", thickness=29, thicknessmode="pixels",
                                 xpad=0, ypad=0, outlinewidth=1.5, outlinecolor="#222222", borderwidth=0,
                                 ticks="outside", ticklen=7, tickwidth=1.4, tickcolor="#222222",
                                 tickvals=cbar_ticks, tickfont=mpl_tick)),
)

fig.write_html("out.html", config={"displayModeBar": False},
               post_script="document.body.style.margin='0';document.body.style.overflow='hidden';")
